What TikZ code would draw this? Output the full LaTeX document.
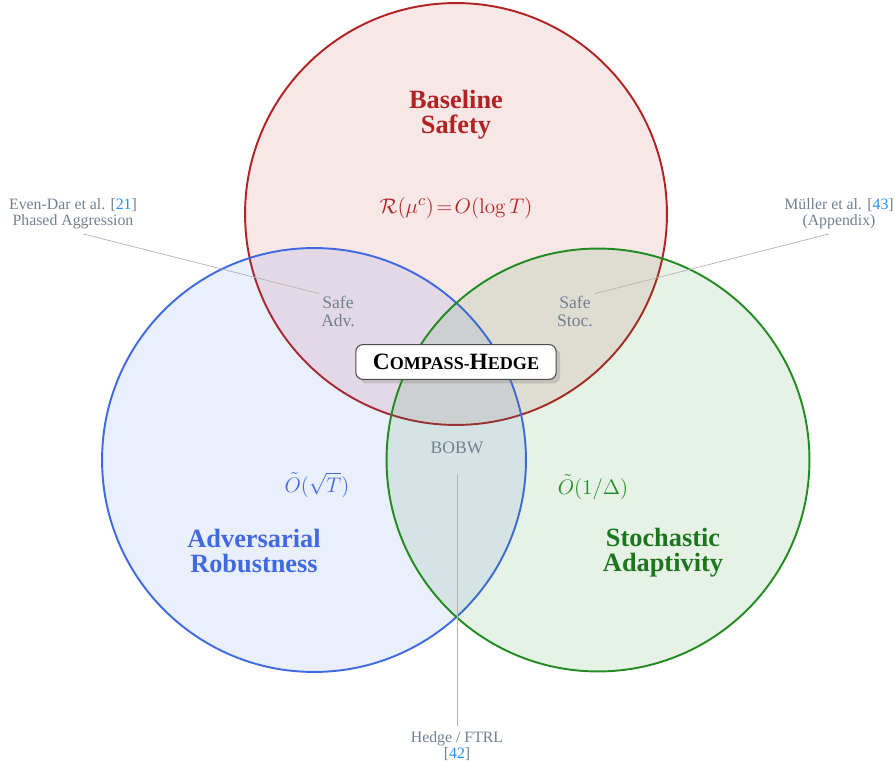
\documentclass[tikz,border=0pt]{standalone}
\usepackage[no-math]{fontspec}
\setmainfont{Liberation Serif}
\usepackage{xcolor}
\usetikzlibrary{shadows}
\definecolor{safered}{RGB}{178,34,34}
\definecolor{advblue}{RGB}{65,105,225}
\definecolor{stocgreen}{RGB}{34,139,34}
\definecolor{notegray}{RGB}{112,128,144}
\definecolor{citeblue}{RGB}{30,144,255}
\tikzset{
  venncircle/.style={line width=1.1pt, fill opacity=0.11},
  setlabel/.style={align=center, inner sep=1pt, font=\bfseries\fontsize{15}{14.2}\selectfont},
  boundlabel/.style={inner sep=1pt, font=\fontsize{12.8}{14}\selectfont},
  zonelabel/.style={align=center, inner sep=1pt, text=notegray, font=\fontsize{10}{10.2}\selectfont},
  refnote/.style={align=center, inner sep=1pt, text=notegray, font=\fontsize{9}{9.2}\selectfont},
  leader/.style={draw=black!30, line width=0.4pt},
  namebox/.style={draw=black!70, fill=white, rounded corners=4pt, drop shadow={opacity=0.3}, line width=0.6pt, minimum width=114pt, minimum height=19.8pt, inner sep=2pt}
}
\newcommand{\refnum}[1]{[\textcolor{citeblue}{#1}]}
\newcommand{\capbig}[1]{{\fontsize{13.3}{13}\selectfont #1}}
\newcommand{\caplow}[1]{{\fontsize{10.3}{10}\selectfont #1}}

\begin{document}
\begin{tikzpicture}[x=0.02cm, y=-0.02cm]
\useasboundingbox (0,0) rectangle (895,763);
% the three sets
\filldraw[venncircle, draw=safered, fill=safered] (456,214) circle[radius=4.22cm];
\filldraw[venncircle, draw=advblue, fill=advblue] (314,460) circle[radius=4.24cm];
\filldraw[venncircle, draw=stocgreen, fill=stocgreen] (598,460) circle[radius=4.23cm];
% set names and bounds
\node[setlabel, text=safered] (safety) at (456,115) {Baseline\\Safety};
\node[setlabel, text=advblue] (robust) at (254,551) {Adversarial\\Robustness};
\node[setlabel, text=stocgreen!85!black] (adapt) at (663,553) {Stochastic\\Adaptivity};
\node[boundlabel, text=safered] (safebound) at (456,208) {$\mathcal{R}(\mu^c)\!=\!O(\log T)$};
\node[boundlabel, text=advblue] (advbound) at (317,485) {$\tilde{O}\bigl(\sqrt{T}\bigr)$};
\node[boundlabel, text=stocgreen] (stocbound) at (593,487) {$\tilde{O}(1/\Delta)$};
% overlaps
\node[zonelabel] (safeadv) at (338,311) {Safe\\Adv.};
\node[zonelabel] (safestoc) at (575,311) {Safe\\Stoc.};
\node[zonelabel] (bobw) at (457,448) {BOBW};
\node[namebox] (compass) at (456,362) {\bfseries\capbig{C}\caplow{OMPASS}-\capbig{H}\caplow{EDGE}};
% prior work
\node[refnote] (evendar) at (73,214) {Even-Dar et al. \refnum{21}\\Phased Aggression};
\node[refnote] (muller) at (839,214) {Müller et al. \refnum{43}\\(Appendix)};
\node[refnote] (hedge) at (457,746) {Hedge / FTRL\\\refnum{42}};
\draw[leader, shorten <=6pt] (evendar.south) -- (safeadv.north west);
\draw[leader, shorten <=6pt] (muller.south) -- (safestoc.north east);
\draw[leader, shorten <=10pt, shorten >=2pt] (bobw.south) -- (hedge.north);
\end{tikzpicture}
\end{document}
